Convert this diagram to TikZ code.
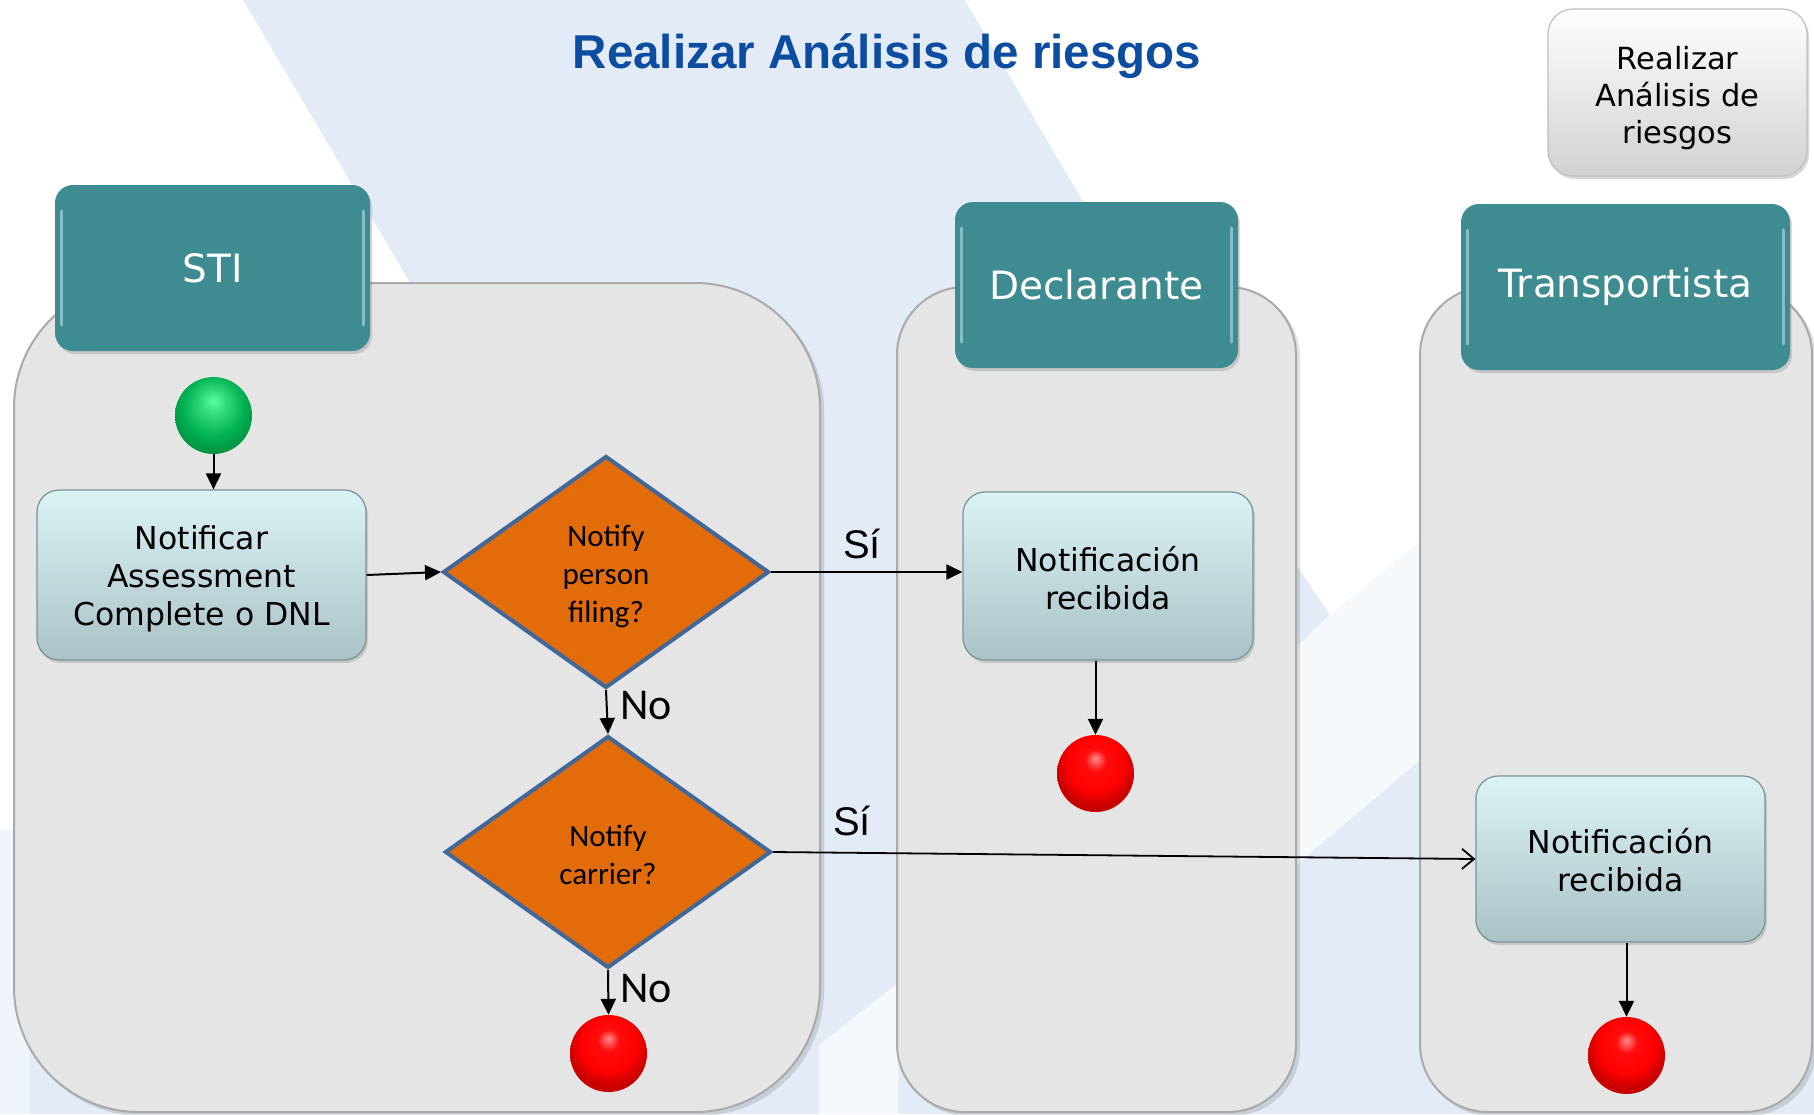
\documentclass[tikz,border=0pt]{standalone}
\usepackage{fontspec}
\setmainfont{DejaVu Sans}
\newfontfamily\arialf{Liberation Sans}
\newfontfamily\calib{Carlito}
\usetikzlibrary{shapes.geometric,arrows.meta,shadows,calc}
\definecolor{bgblue}{RGB}{226,235,246}
\definecolor{titleblue}{RGB}{12,77,162}
\definecolor{hdrteal}{RGB}{62,139,146}
\definecolor{lanegray}{RGB}{229,229,229}
\definecolor{laneedge}{RGB}{170,170,170}
\definecolor{boxtop}{RGB}{220,243,246}
\definecolor{boxbot}{RGB}{170,194,197}
\definecolor{boxedge}{RGB}{125,145,148}
\definecolor{dfill}{RGB}{227,108,10}
\definecolor{dedge}{RGB}{65,104,152}
\definecolor{gbase}{RGB}{0,176,80}
\definecolor{glight}{RGB}{90,255,160}
\pgfdeclareradialshading{redball}{\pgfpoint{0bp}{10bp}}{color(0bp)=(red!45!white); color(7bp)=(red!95!white); color(18bp)=(red); color(26bp)=(red!78!black); color(50bp)=(red!78!black)}
\pgfdeclareradialshading{greenball}{\pgfpoint{0bp}{10bp}}{color(0bp)=(glight); color(8bp)=(glight!55!gbase); color(20bp)=(gbase); color(30bp)=(gbase!80!black); color(50bp)=(gbase!80!black)}
\begin{document}
\begin{tikzpicture}[x=1pt,y=-1pt,
  lane/.style={fill=lanegray, draw=laneedge, line width=2pt},
  laneshadow/.style={fill=black, opacity=0.12},
  hdr/.style={fill=hdrteal, text=white, rounded corners=18pt, inner sep=0pt, font=\fontsize{39}{46}\selectfont, drop shadow={opacity=0.3,shadow xshift=2pt,shadow yshift=-3pt}},
  hl/.style={line width=3pt, draw=cyan!20!white, opacity=0.5, line cap=round},
  actbox/.style={rounded corners=22pt, top color=boxtop, bottom color=boxbot, draw=boxedge, line width=1.2pt, inner sep=0pt, drop shadow={opacity=0.3,shadow xshift=2pt,shadow yshift=-3pt}},
  boxtxt/.style={align=center, inner sep=0pt, font=\fontsize{31.5}{38}\selectfont},
  topbox/.style={rounded corners=25pt, top color=white, bottom color=black!18, draw=black!25, line width=1.2pt, inner sep=0pt, drop shadow={opacity=0.3,shadow xshift=2pt,shadow yshift=-3pt}},
  reftxt/.style={align=center, inner sep=0pt, font=\fontsize{30.5}{37}\selectfont},
  decision/.style={diamond, fill=dfill, draw=dedge, line width=4pt, inner sep=0pt, minimum width=326pt, minimum height=232pt},
  dtxt/.style={align=center, inner sep=0pt, font=\calib\fontsize{31}{38}\selectfont},
  startc/.style={circle, minimum size=77pt, inner sep=0pt, shading=greenball},
  endc/.style={circle, minimum size=77pt, inner sep=0pt, shading=redball},
  flow/.style={draw=black, line width=2pt, -{Triangle[length=16pt,width=15pt]}},
  openflow/.style={draw=black, line width=1.8pt, -{Straight Barb[length=12pt,width=20pt]}},
  silbl/.style={font=\arialf\fontsize{40}{48}\selectfont, inner sep=0pt, anchor=base west},
  nolbl/.style={font=\calib\fontsize{44}{52}\selectfont, inner sep=0pt, anchor=base west}
]
\useasboundingbox (0,0) rectangle (1814,1114);
% background
\fill[bgblue] (0,0) rectangle (1814,1114);
\fill[white] (0,0) -- (243,0) -- (420,300) -- (0,300) -- cycle;
\fill[white] (0,290) rectangle (150,830);
\fill[bgblue!55] (0,830) rectangle (30,1114);
\fill[white] (965,0) -- (1814,0) -- (1814,600) -- (1421,759) -- (1296,865) -- (1296,647) -- (1330,615) -- (1293,560) -- cycle;
\fill[bgblue!30] (1296,647) -- (1330,615) -- (1421,540) -- (1421,759) -- (1296,865) -- cycle;
\fill[bgblue!35] (819,1045) -- (898,983) -- (898,1114) -- (819,1114) -- cycle;
% lanes (with soft shadow)
\fill[laneshadow, rounded corners=125pt] (17,286) rectangle (824,1116);
\fill[laneshadow, rounded corners=68pt] (900,290) rectangle (1300,1116);
\fill[laneshadow, rounded corners=68pt] (1423,290) rectangle (1816,1116);
\draw[lane, rounded corners=125pt] (14,283) rectangle (820,1112);
\draw[lane, rounded corners=68pt] (897,287) rectangle (1296,1112);
\draw[lane, rounded corners=68pt] (1420,287) rectangle (1812,1112);
% title and reference box
\node[anchor=base, font=\arialf\bfseries\fontsize{47.5}{56}\selectfont, text=titleblue, inner sep=0pt] (title) at (887,68) {Realizar Análisis de riesgos};
\node[topbox, minimum width=259pt, minimum height=167pt] (ref) at (1677.5,92.5) {};
\node[reftxt] (reft) at (1677.5,98) {Realizar\\Análisis de\\riesgos};
% headers
\node[hdr, minimum width=315pt, minimum height=166pt] (hsti) at (212.5,268) {STI};
\node[hdr, minimum width=283pt, minimum height=166pt] (hdec) at (1096.5,285) {Declarante};
\node[hdr, minimum width=329pt, minimum height=166pt] (htra) at (1625.5,287) {Transportista};
\foreach \h in {hsti,hdec,htra}{
  \draw[hl] ($(\h.north west)+(7,26)$) -- ($(\h.south west)+(7,-26)$);
  \draw[hl] ($(\h.north east)+(-7,26)$) -- ($(\h.south east)+(-7,-26)$);
}
% flow nodes
\node[startc] (st) at (213.5,415.5) {};
\node[actbox, minimum width=329pt, minimum height=170pt] (a1) at (201.5,575) {};
\node[boxtxt] (a1t) at (201.5,578.5) {Notificar\\Assessment\\Complete o DNL};
\node[decision] (d1) at (606,572) {};
\node[dtxt] (d1t) at (606,576.5) {Notify\\person\\filing?};
\node[decision] (d2) at (608,852) {};
\node[dtxt] (d2t) at (608,854.5) {Notify\\carrier?};
\node[endc] (e1) at (608.5,1053.5) {};
\node[actbox, minimum width=290pt, minimum height=168pt] (n1) at (1108,576) {};
\node[boxtxt] (n1t) at (1108,578.5) {Notificación\\recibida};
\node[endc] (e2) at (1095.5,773.5) {};
\node[actbox, minimum width=289pt, minimum height=166pt] (n2) at (1620.5,859) {};
\node[boxtxt] (n2t) at (1620.5,860.5) {Notificación\\recibida};
\node[endc] (e3) at (1626.5,1055.5) {};
% connectors
\draw[flow] (st.south) -- (st.south |- a1.north);
\draw[flow] (a1.east) -- (d1.west);
\draw[flow] (d1.east) -- (d1.east -| n1.west);
\draw[flow] (d1.south) -- (d2.north);
\draw[openflow] (d2.east) -- (n2.west);
\draw[flow] (d2.south) -- (e1.north);
\draw[flow] (e2.north |- n1.south) -- (e2.north);
\draw[flow] (e3.north |- n2.south) -- (e3.north);
% labels
\node[silbl] (si1) at (843,558) {Sí};
\node[silbl] (si2) at (833,835) {Sí};
\node[nolbl] (no1) at (620,719) {No};
\node[nolbl] (no2) at (620,1002) {No};
\end{tikzpicture}
\end{document}
